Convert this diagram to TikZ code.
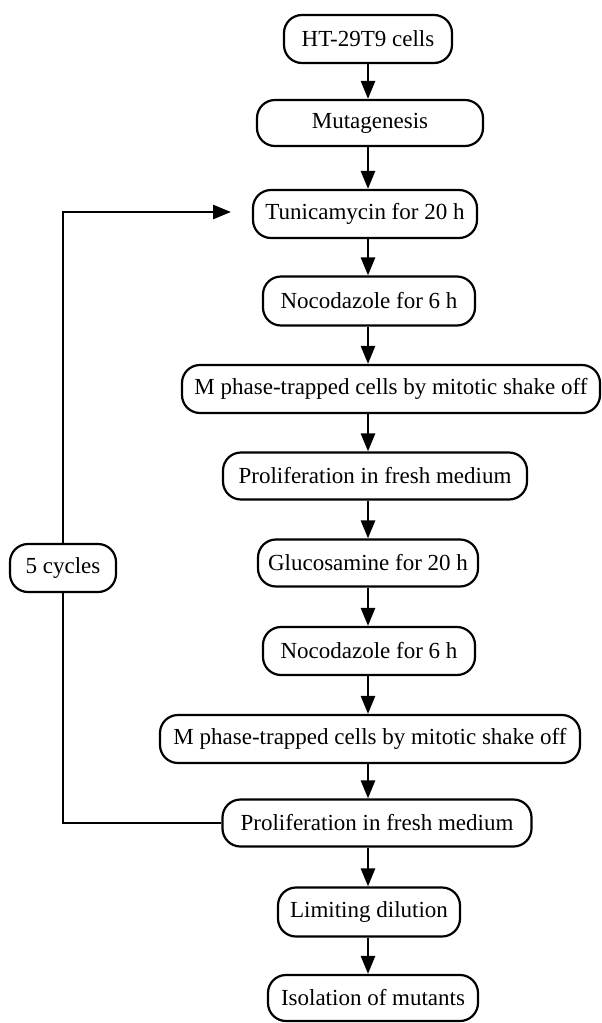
\documentclass[tikz,border=0pt]{standalone}
\usepackage{fontspec}
\setmainfont{Liberation Serif}
\usetikzlibrary{arrows.meta}
\begin{document}
\begin{tikzpicture}[x=1pt,y=-1pt,
  stepbox/.style={draw,line width=2.2pt,rounded corners=18pt,inner sep=0pt,
    font=\fontsize{23}{26}\selectfont,anchor=center},
  arr/.style={line width=2.7pt,-{Triangle[length=18pt,width=14pt]}},
  ln/.style={line width=2.5pt}]
\useasboundingbox (0,0) rectangle (602,1023);
\node[stepbox,minimum width=168pt,minimum height=48pt] (b1) at (368,39) {HT-29T9 cells};
\node[stepbox,minimum width=226pt,minimum height=46pt] (b2) at (370,123) {Mutagenesis};
\node[stepbox,minimum width=224pt,minimum height=48pt] (b3) at (365,214) {Tunicamycin for 20 h};
\node[stepbox,minimum width=212pt,minimum height=49pt] (b4) at (369,301) {Nocodazole for 6 h};
\node[stepbox,minimum width=418pt,minimum height=48pt] (b5) at (391,389) {M phase-trapped cells by mitotic shake off};
\node[stepbox,minimum width=304pt,minimum height=47pt] (b6) at (375,476) {Proliferation in fresh medium};
\node[stepbox,minimum width=220pt,minimum height=47pt] (b7) at (368,563) {Glucosamine for 20 h};
\node[stepbox,minimum width=212pt,minimum height=48pt] (b8) at (369,651) {Nocodazole for 6 h};
\node[stepbox,minimum width=420pt,minimum height=48pt] (b9) at (370,739) {M phase-trapped cells by mitotic shake off};
\node[stepbox,minimum width=309pt,minimum height=47pt] (b10) at (377,823) {Proliferation in fresh medium};
\node[stepbox,minimum width=182pt,minimum height=49pt] (b11) at (369,912) {Limiting dilution};
\node[stepbox,minimum width=210pt,minimum height=46pt] (b12) at (373,998) {Isolation of mutants};
\node[stepbox,minimum width=106pt,minimum height=48pt] (cyc) at (63,568) {5 cycles};
\coordinate (ax) at (368,0);
\coordinate (lb) at (63,823);
\coordinate (lt) at (63,212);
\coordinate (tip) at (231,212);
\foreach \a/\b in {b1/b2,b2/b3,b3/b4,b4/b5,b5/b6,b6/b7,b7/b8,b8/b9,b9/b10,b10/b11,b11/b12}
  \draw[arr] (\a.south -| ax) -- (\b.north -| ax);
\draw[ln] (b10.west) -- (lb) -- (cyc.south);
\draw[arr] (cyc.north) -- (lt) -- (tip);
\end{tikzpicture}
\end{document}
